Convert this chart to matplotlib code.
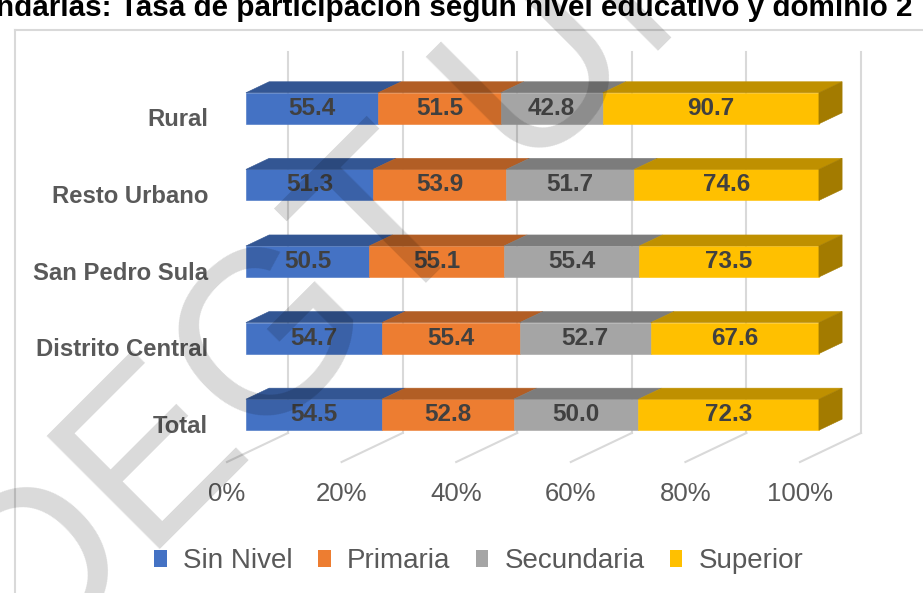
import numpy as np
import matplotlib.pyplot as plt
from matplotlib.patches import Polygon, Patch
from matplotlib.lines import Line2D

plt.rcParams['font.family'] = ['Liberation Sans', 'DejaVu Sans']

# ── Data ──
categories = ["Total", "Distrito Central", "San Pedro Sula", "Resto Urbano", "Rural"]
sin_nivel = [54.5, 54.7, 50.5, 51.3, 55.4]
primaria = [52.8, 55.4, 55.1, 53.9, 51.5]
secundaria = [50.0, 52.7, 55.4, 51.7, 42.8]
superior = [72.3, 67.6, 73.5, 74.6, 90.7]
series_names = ["Sin Nivel", "Primaria", "Secundaria", "Superior"]
tick_values = [0, 20, 40, 60, 80, 100]
title = "ndarias: Tasa de participación según nivel educativo y dominio 2"
watermark = "DEGT UNAH"

front_colors = ["#4472C4", "#ED7D31", "#A5A5A5", "#FFC000"]
top_colors = ["#335693", "#B25E25", "#7C7C7C", "#BF9000"]
side_colors = ["#2B4A80", "#985020", "#6A6A6A", "#A37B00"]
grid_color = "#D9D9D9"
text_gray = "#595959"
label_gray = "#404040"

# ── Fake 3D geometry (in data units) ──
DX, DY = 10.65, 0.379      # full floor depth offset
Z0, Z1 = 0.31, 0.69        # bar front / back depth
HALF = 0.2025              # half bar height
WALL_TOP = 4.85

W, H = 923, 593
fig = plt.figure(figsize=(W / 100, H / 100), dpi=100)
ax = fig.add_axes([227 / W, 131 / H, 573 / W, 383 / H])
ax.set_xlim(0, 100)
ax.set_ylim(-0.5, 4.5)
for s in ax.spines.values():
    s.set_visible(False)


def shift(pts, z):
    return [(x + DX * z, y + DY * z) for x, y in pts]


# back wall gridlines + floor lines
for v in tick_values:
    ax.plot([v, v + DX], [-0.5, -0.5 + DY], color=grid_color, lw=1.5,
            clip_on=False, zorder=1)
    ax.plot([v + DX, v + DX], [-0.5 + DY, WALL_TOP], color=grid_color, lw=1.5,
            clip_on=False, zorder=1)

# stacked (100%) bars
data = np.array([sin_nivel, primaria, secundaria, superior])
totals = data.sum(axis=0)
for i, cat in enumerate(categories):
    left = 0.0
    for j in range(len(series_names)):
        width = data[j, i] / totals[i] * 100
        l, r = left, left + width
        yb, yt = i - HALF, i + HALF
        front = shift([(l, yb), (r, yb), (r, yt), (l, yt)], Z0)
        top = shift([(l, yt), (r, yt)], Z0) + shift([(r, yt), (l, yt)], Z1)
        ax.add_patch(Polygon(front, closed=True, facecolor=front_colors[j],
                             edgecolor=front_colors[j], lw=0.4, clip_on=False, zorder=3))
        ax.add_patch(Polygon(top, closed=True, facecolor=top_colors[j],
                             edgecolor=top_colors[j], lw=0.4, clip_on=False, zorder=3))
        if j == len(series_names) - 1:
            side = shift([(r, yb), (r, yt)], Z0) + shift([(r, yt), (r, yb)], Z1)
            ax.add_patch(Polygon(side, closed=True, facecolor=side_colors[j],
                                 edgecolor=side_colors[j], lw=0.4, clip_on=False, zorder=3))
        cx, cy = shift([((l + r) / 2, i)], Z0)[0]
        ax.text(cx, cy, f"{data[j, i]:.1f}", ha="center", va="center",
                fontsize=17.5, fontweight="bold", color=label_gray, zorder=4)
        left = r

ax.set_xticks(tick_values, [f"{t}%" for t in tick_values])
ax.set_yticks(range(len(categories)), categories)
ax.tick_params(axis="x", length=0, pad=14.5, labelsize=18.5, labelcolor=text_gray)
ax.tick_params(axis="y", length=0, pad=13.5, labelsize=17.2, labelcolor=text_gray)
for lab in ax.get_yticklabels():
    lab.set_fontweight("bold")

handles = [Patch(facecolor=c, edgecolor="none") for c in front_colors]
ax.legend(handles, series_names, loc="center", ncol=4, frameon=False,
          bbox_to_anchor=(479 / W, 32 / H), bbox_transform=fig.transFigure,
          fontsize=20, labelcolor=text_gray, handlelength=0.45, handleheight=0.55,
          handletextpad=0.6, columnspacing=0.9)

# chart area border
fig.add_artist(Line2D([15 / W, 15 / W], [0, 563 / H], transform=fig.transFigure,
                      color=grid_color, lw=1.5))
fig.add_artist(Line2D([15 / W, 1], [563 / H, 563 / H], transform=fig.transFigure,
                      color=grid_color, lw=1.5))

# title (cut off by the page in the source)
fig.text(-4 / W, (H - 16) / H, title, ha="left", va="baseline",
         fontsize=21.3, fontweight="bold", color="black")

# watermark
fig.text(29 / W, (H - 681) / H, watermark, rotation=45, rotation_mode="anchor",
         ha="left", va="baseline", fontsize=167, color="black", alpha=0.15, zorder=10)

fig.savefig("out.png", dpi=100)
